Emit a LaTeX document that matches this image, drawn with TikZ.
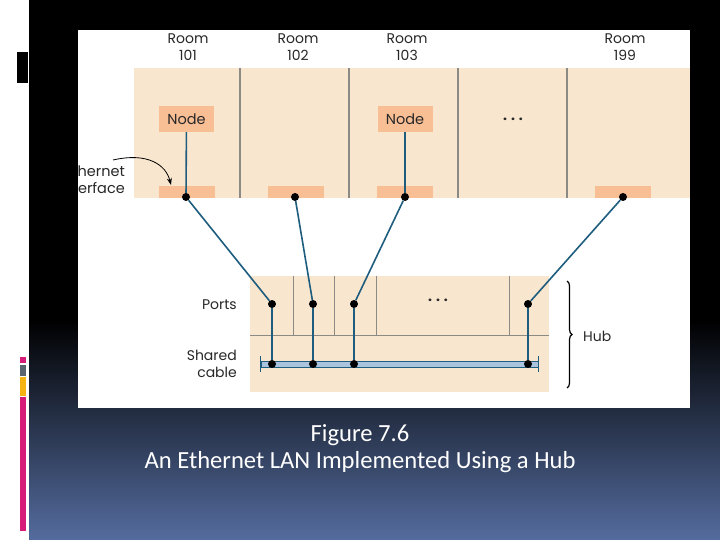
\documentclass[tikz,border=0pt]{standalone}
\usepackage{fontspec}
\setmainfont{Poppins}
\newfontfamily\capfont{Carlito}
\usetikzlibrary{decorations.pathreplacing,arrows.meta}
\definecolor{beige}{RGB}{249,230,207}
\definecolor{salmon}{RGB}{248,190,148}
\definecolor{teal}{RGB}{30,93,126}
\definecolor{divgray}{RGB}{140,138,132}
\definecolor{cableblue}{RGB}{169,196,220}
\definecolor{bgblue}{RGB}{84,108,158}
\definecolor{barpink}{RGB}{214,28,120}
\definecolor{bargray}{RGB}{90,100,110}
\definecolor{baryellow}{RGB}{245,180,20}
\definecolor{txt}{RGB}{40,40,40}
\tikzset{
  lbl/.style={font=\fontsize{14}{17}\selectfont, text=txt, align=center, inner sep=0pt},
  nodebox/.style={fill=salmon, minimum width=55pt, minimum height=26pt, inner sep=0pt, font=\fontsize{14.5}{16}\selectfont, text=txt},
  ifbox/.style={fill=salmon, minimum width=56pt, minimum height=12pt, inner sep=0pt},
  dot/.style={circle, fill=black, minimum size=8pt, inner sep=0pt},
  link/.style={draw=teal, line width=1.6pt},
  divider/.style={draw=divgray, line width=1.4pt},
  thindiv/.style={draw=divgray, line width=0.7pt},
  capt/.style={font=\capfont\fontsize{24.6}{28}\selectfont, text=white, inner sep=0pt}
}
\begin{document}
\begin{tikzpicture}[x=1pt,y=-1pt]
\useasboundingbox (0,0) rectangle (720,540);
% slide background
\fill[white] (0,0) rectangle (29,540);
\fill[black] (29,0) rectangle (720,540);
\shade[top color=black, bottom color=bgblue] (29,320) rectangle (720,540);
\fill[black] (17,52) rectangle (28,83);
\fill[barpink] (20,357) rectangle (26,363);
\fill[bargray] (20,365) rectangle (26,376);
\fill[baryellow] (20,377) rectangle (26,396);
\fill[barpink] (20,397) rectangle (26,531);
% figure
\fill[white] (78,30) rectangle (690,408);
\begin{scope}
\clip (78,30) rectangle (690,408);
\fill[beige] (134,68) rectangle (690,198);
\foreach \x in {240,349,458,567} \draw[divider] (\x,68) -- (\x,198);
\node[lbl] (r101) at (188,47) {Room\\101};
\node[lbl] (r102) at (298,47) {Room\\102};
\node[lbl] (r103) at (407,47) {Room\\103};
\node[lbl] (r199) at (625,47) {Room\\199};
\node[nodebox] (n1) at (186.5,119) {Node};
\node[nodebox] (n3) at (405,119) {Node};
\node[lbl, font=\bfseries\fontsize{14}{16}\selectfont] (rdots) at (513,119) {. . .};
\node[ifbox] (i1) at (186.5,192) {};
\node[ifbox] (i2) at (296,192) {};
\node[ifbox] (i3) at (405,192) {};
\node[ifbox] (i4) at (623,192) {};
\node[dot] (d1) at (186,197) {};
\node[dot] (d2) at (295,197) {};
\node[dot] (d3) at (405,197) {};
\node[dot] (d4) at (623,197) {};
\draw[link] (n1) -- (d1);
\draw[link] (n3) -- (d3);
\node[lbl, anchor=east, align=right, font=\fontsize{14.5}{17}\selectfont] (eth) at (125,179.5) {Ethernet\\interface};
\coordinate (ethtip) at (171,185);
\draw[line width=0.8pt, -{Stealth[length=7pt,width=5pt]}] (113,160) .. controls (148,152) and (166,165) .. (ethtip);
% hub
\fill[beige] (250,276) rectangle (549,392);
\draw[thindiv] (250,335) -- (549,335);
\foreach \x in {293,334,376,509} \draw[thindiv] (\x,276) -- (\x,335);
\node[lbl, font=\bfseries\fontsize{14}{16}\selectfont] (hdots) at (438,300) {. . .};
\node[draw=teal, fill=cableblue, line width=1pt, minimum width=277pt, minimum height=6pt, inner sep=0pt] (cab) at (399.5,364) {};
\draw[link] (cab.west) ++(0,-8) -- ++(0,16);
\draw[link] (cab.east) ++(0,-8) -- ++(0,16);
\node[dot] (p1) at (272,304) {};
\node[dot] (p2) at (313,304) {};
\node[dot] (p3) at (354,304) {};
\node[dot] (p4) at (528,304) {};
\node[dot] (c1) at (272,364) {};
\node[dot] (c2) at (313,364) {};
\node[dot] (c3) at (354,364) {};
\node[dot] (c4) at (528,364) {};
\foreach \i in {1,...,4} \draw[link] (p\i) -- (c\i);
\draw[link] (d1) -- (p1);
\draw[link] (d2) -- (p2);
\draw[link] (d3) -- (p3);
\draw[link] (d4) -- (p4);
\node[lbl, anchor=east] (ports) at (237,305) {Ports};
\node[lbl, anchor=east, align=right] (shared) at (237,364) {Shared\\cable};
\draw[line width=1.2pt, decorate, decoration={brace, amplitude=5pt}] (567,281) -- (567,388);
\node[lbl, anchor=west] (hub) at (583,336) {Hub};
\end{scope}
% caption
\node[capt] (cap1) at (360,435) {Figure 7.6};
\node[capt] (cap2) at (360,462) {An Ethernet LAN Implemented Using a Hub};
\end{tikzpicture}
\end{document}
